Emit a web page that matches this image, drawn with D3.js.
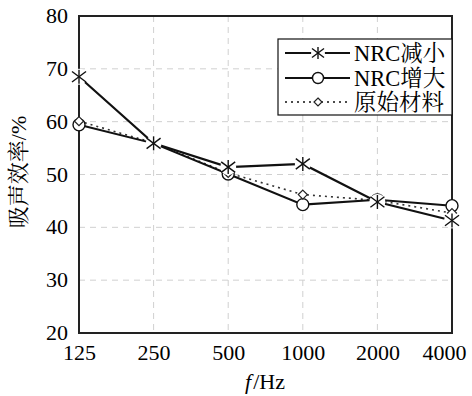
<!DOCTYPE html>
<html>
<head>
<meta charset="utf-8">
<script src="https://cdn.jsdelivr.net/npm/d3@7"></script>
<style>
  body { margin: 0; background: #fff; }
</style>
</head>
<body>
<svg id="chart" width="472" height="396"></svg>
<script>
const freqs = ["125", "250", "500", "1000", "2000", "4000"];
const nrcDown = [68.5, 55.9, 51.4, 52.0, 44.8, 41.3];
const nrcUp = [59.4, 55.9, 50.1, 44.3, 45.2, 44.1];
const original = [60.1, 56.0, 50.3, 46.2, 45.1, 42.7];
const yTicks = [20, 30, 40, 50, 60, 70, 80];
const seriesNames = ["NRC减小", "NRC增大", "原始材料"];

const serif = "'Liberation Serif', 'Noto Serif CJK SC', serif";

const margin = { left: 79, right: 20, top: 16, bottom: 63 };
const width = 472 - margin.left - margin.right;
const height = 396 - margin.top - margin.bottom;

const svg = d3.select("#chart");
const g = svg.append("g").attr("transform", `translate(${margin.left},${margin.top})`);

const x = d3.scalePoint().domain(freqs).range([0, width]);
const y = d3.scaleLinear().domain([20, 80]).range([height, 0]);

// grid
g.append("g").selectAll("line").data(freqs.slice(1, -1)).enter().append("line")
  .attr("x1", d => x(d)).attr("x2", d => x(d)).attr("y1", 0).attr("y2", height)
  .attr("stroke", "#d0d0d0").attr("stroke-dasharray", "6,5");
g.append("g").selectAll("line").data(yTicks.slice(1, -1)).enter().append("line")
  .attr("x1", 0).attr("x2", width).attr("y1", d => y(d)).attr("y2", d => y(d))
  .attr("stroke", "#d0d0d0").attr("stroke-dasharray", "6,5");

// axes
const xAxis = g.append("g").attr("transform", `translate(0,${height})`)
  .call(d3.axisBottom(x).tickSize(0).tickPadding(11));
const yAxis = g.append("g").call(d3.axisLeft(y).tickValues(yTicks).tickSize(0).tickPadding(11));
[xAxis, yAxis].forEach(a => {
  a.attr("font-family", serif).attr("font-size", 22);
  a.select(".domain").remove();
  a.selectAll("text").attr("fill", "#000");
});
xAxis.selectAll("text").attr("dy", "0.72em");
xAxis.selectAll(".tick").filter(d => d === "4000").select("text").attr("x", -8);
yAxis.selectAll("text").attr("dy", "0.3em");

// frame
g.append("rect").attr("x", 0).attr("y", 0).attr("width", width).attr("height", height)
  .attr("fill", "none").attr("stroke", "#222").attr("stroke-width", 2);

const line = d3.line().x((d, i) => x(freqs[i])).y(d => y(d));

// original (dotted)
g.append("path").datum(original).attr("d", line)
  .attr("fill", "none").attr("stroke", "#333").attr("stroke-width", 1.6).attr("stroke-dasharray", "2,4");
// NRC up
g.append("path").datum(nrcUp).attr("d", line)
  .attr("fill", "none").attr("stroke", "#111").attr("stroke-width", 2);
// NRC down
g.append("path").datum(nrcDown).attr("d", line)
  .attr("fill", "none").attr("stroke", "#111").attr("stroke-width", 2.2);

function star(sel, r) {
  sel.append("circle").attr("r", r + 1).attr("fill", "#fff");
  sel.append("line").attr("x1", -r).attr("y1", -r * 0.75).attr("x2", r).attr("y2", r * 0.75);
  sel.append("line").attr("x1", -r).attr("y1", r * 0.75).attr("x2", r).attr("y2", -r * 0.75);
  sel.append("line").attr("x1", 0).attr("y1", -r).attr("x2", 0).attr("y2", r);
  sel.selectAll("line").attr("stroke", "#111").attr("stroke-width", 1.4);
}
function circ(sel, r) {
  sel.append("circle").attr("r", r).attr("fill", "#fff").attr("stroke", "#111").attr("stroke-width", 1.4);
}
function diamond(sel, r) {
  sel.append("path").attr("d", `M0,${-r}L${r},0L0,${r}L${-r},0Z`)
    .attr("fill", "#fff").attr("stroke", "#222").attr("stroke-width", 1.2);
}

const markerG = (data, fn, r) => g.append("g").selectAll("g").data(data).enter().append("g")
  .attr("transform", (d, i) => `translate(${x(freqs[i])},${y(d)})`)
  .each(function () { fn(d3.select(this), r); });

markerG(nrcUp, circ, 6);
markerG(original, diamond, 4.5);
markerG(nrcDown, star, 7);

// legend
const lg = svg.append("g").attr("transform", "translate(278,39)");
lg.append("rect").attr("width", 174).attr("height", 76).attr("fill", "#fff").attr("stroke", "#111").attr("stroke-width", 1.2);
const rowsY = [14, 39, 63];
const drawers = [
  [star, 6, "0", 2],
  [circ, 5.5, "0", 2],
  [diamond, 4, "2,4", 1.5]
];
seriesNames.forEach((name, i) => {
  const row = lg.append("g").attr("transform", `translate(0,${rowsY[i]})`);
  row.append("line").attr("x1", 7).attr("x2", 72).attr("y1", 0).attr("y2", 0)
    .attr("stroke", "#111").attr("stroke-width", drawers[i][3])
    .attr("stroke-dasharray", drawers[i][2] === "0" ? null : drawers[i][2]);
  const m = row.append("g").attr("transform", "translate(40,0)");
  drawers[i][0](m, drawers[i][1]);
  row.append("text").attr("x", 76).attr("y", 0).attr("dy", "0.35em")
    .attr("font-family", serif).attr("font-size", 22.5).text(name);
});

// axis titles
svg.append("text").attr("transform", "translate(26,172) rotate(-90)")
  .attr("text-anchor", "middle").attr("font-family", serif).attr("font-size", 22).text("吸声效率/%");
const xt = svg.append("text").attr("x", 265).attr("y", 389).attr("text-anchor", "middle")
  .attr("font-family", serif).attr("font-size", 22);
xt.append("tspan").attr("font-style", "italic").text("f");
xt.append("tspan").attr("dx", 2).text("/Hz");
</script>
</body>
</html>
